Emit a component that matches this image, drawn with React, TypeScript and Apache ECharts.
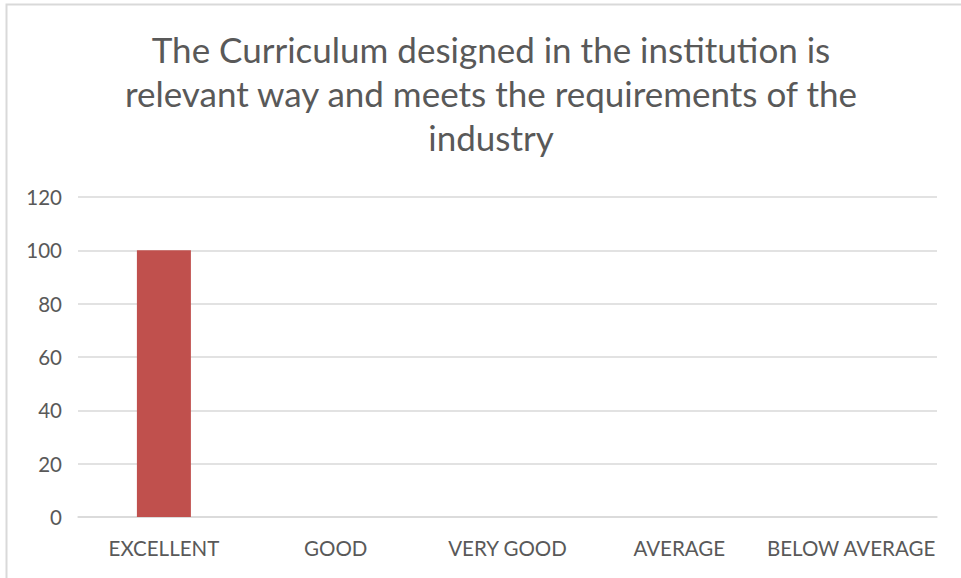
import React, { useEffect, useRef } from "react";
import * as echarts from "echarts";

const titleLines = [
  "The Curriculum designed in the institution is",
  "relevant way and meets the requirements of the",
  "industry",
];
const categories = ["EXCELLENT", "GOOD", "VERY GOOD", "AVERAGE", "BELOW AVERAGE"];
const values = [100, 0, 0, 0, 0];
const yMin = 0;
const yMax = 120;
const yInterval = 20;

const FONT = "Lato";
const TEXT = "#595959";

export default function App() {
  const ref = useRef<HTMLDivElement>(null);
  useEffect(() => {
    if (!ref.current) return;
    const chart = echarts.init(ref.current, undefined, { renderer: "svg" });
    chart.setOption({
      animation: false,
      backgroundColor: "#ffffff",
      title: {
        text: titleLines.join("\n"),
        left: 486,
        top: 22,
        textAlign: "center",
        textStyle: {
          fontFamily: FONT,
          fontSize: 35,
          fontWeight: "normal",
          color: TEXT,
          lineHeight: 44,
        },
      },
      graphic: [
        {
          type: "rect",
          shape: { x: 6.5, y: 4.5, width: 1200, height: 1200 },
          style: { fill: "none", stroke: "#d9d9d9", lineWidth: 2 },
          silent: true,
        },
      ],
      grid: { left: 78, right: 24, top: 197, bottom: 61, containLabel: false },
      xAxis: {
        type: "category",
        data: categories,
        axisLine: { show: true, lineStyle: { color: "#d9d9d9", width: 1.5 } },
        axisTick: { show: false },
        axisLabel: { fontFamily: FONT, fontSize: 20.5, color: TEXT, margin: 20, interval: 0 },
      },
      yAxis: {
        type: "value",
        min: yMin,
        max: yMax,
        interval: yInterval,
        axisLine: { show: false },
        axisTick: { show: false },
        axisLabel: { fontFamily: FONT, fontSize: 20.5, color: TEXT, margin: 16 },
        splitLine: { lineStyle: { color: "#d9d9d9", width: 1.5 } },
      },
      series: [
        {
          type: "bar",
          data: values,
          barWidth: 54,
          itemStyle: { color: "#c0504d" },
        },
      ],
    });
    return () => chart.dispose();
  }, []);
  return (
    <div
      ref={ref}
      style={{ position: "fixed", left: 0, top: 0, width: 961, height: 578 }}
    />
  );
}
